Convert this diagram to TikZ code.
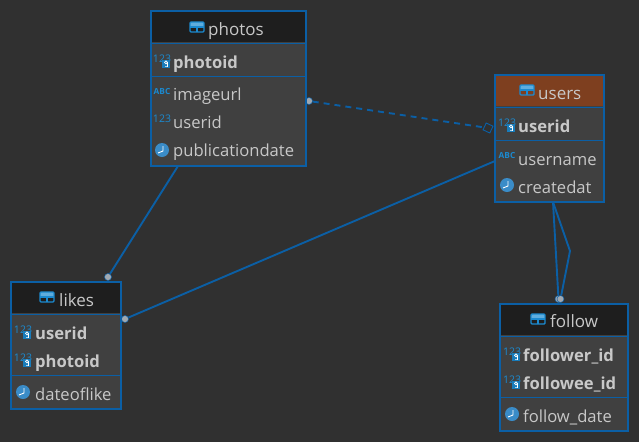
\documentclass[tikz,border=0pt]{standalone}
\usepackage{fontspec}
\setmainfont{Open Sans}
\usetikzlibrary{positioning,shapes.geometric}
\definecolor{BackGrey}{HTML}{303030}
\definecolor{PanelGrey}{HTML}{404040}
\definecolor{HeadBlack}{HTML}{1E1E1E}
\definecolor{HeadBrown}{HTML}{7E3F1F}
\definecolor{LinkBlue}{HTML}{0B5FA5}
\definecolor{IconBlue}{HTML}{1B8AD0}
\definecolor{ClockBlue}{HTML}{3A8CC8}
\definecolor{DotGrey}{HTML}{A0A8B0}
\definecolor{NameGrey}{HTML}{C8C8C8}
\tikzset{
  tablebox/.style={draw=LinkBlue,line width=2pt,fill=PanelGrey,rectangle,anchor=north west,inner sep=0pt,outer sep=0pt},
  headband/.style={fill=HeadBlack,rectangle,anchor=north west,inner sep=0pt,outer sep=0pt,minimum height=31pt},
  sepline/.style={draw=LinkBlue,line width=0.8pt},
  tabletitle/.style={anchor=base west,inner sep=0pt,text=NameGrey,font=\fontsize{17}{19}\selectfont},
  keyname/.style={anchor=base west,inner sep=0pt,text=NameGrey,font=\fontsize{16.6}{19}\selectfont\bfseries},
  colname/.style={anchor=base west,inner sep=0pt,text=NameGrey,font=\fontsize{16.6}{19}\selectfont},
  linkline/.style={draw=LinkBlue,line width=1.9pt},
  linkdot/.style={circle,fill=DotGrey,draw=LinkBlue,line width=0.5pt,inner sep=0pt,minimum size=7pt},
  tableicon/.pic={
    \fill[IconBlue!70!white] (-7,-5) rectangle (7,-1);
    \draw[IconBlue,line width=1.4pt,rounded corners=1pt] (-7,-5) rectangle (7,5);
    \draw[IconBlue,line width=1.2pt] (-7,0) -- (7,0) (0,0) -- (0,5);
  },
  numicon/.pic={
    \node (-num) [inner sep=0pt,text=IconBlue,font=\fontsize{10.5}{11}\selectfont] at (0,-2) {123};
  },
  keyicon/.pic={
    \node (-num) [inner sep=0pt,text=IconBlue,font=\fontsize{10.5}{11}\selectfont] at (0,-3) {123};
    \fill[IconBlue!90!black] (0,-2) rectangle (8,6);
    \draw[white,line width=0.7pt] (4,0.4) circle (1.5) (5.5,0.4) -- (5.5,4.6) -- (3,4.6);
  },
  abcicon/.pic={
    \node (-abc) [inner sep=0pt,text=IconBlue,font=\fontsize{8.3}{9}\selectfont\bfseries] at (0,0) {ABC};
  },
  clockicon/.pic={
    \fill[ClockBlue] (0,0) circle (7);
    \draw[white,line width=0.9pt] (1,-4) -- (1,1) -- (-4,3);
  },
}
\begin{document}
\begin{tikzpicture}[x=1pt,y=-1pt]
  \fill[BackGrey] (0,0) rectangle (639,442);
  \useasboundingbox (0,0) rectangle (639,442);

  % connectors
  \coordinate (photosfoot) at (178,166);
  \coordinate (usersleft) at (495,161);
  \coordinate (usersfoot) at (553,202);
  \coordinate (bendright) at (570,251);
  \node (photosdot) [linkdot] at (309,101) {};
  \node (usersdiamond) [diamond,draw=LinkBlue,line width=0.9pt,inner sep=0pt,minimum size=11pt,rotate=20] at (488,128) {};
  \node (likestop) [linkdot] at (108,277) {};
  \node (likesright) [linkdot] at (125,319) {};
  \node (followa) [linkdot] at (558.5,299) {};
  \node (followb) [linkdot] at (560.5,299) {};

  \draw[linkline] (photosfoot) -- (likestop);
  \draw[linkline] (usersleft) -- (likesright);
  \draw[linkline,dash pattern=on 6pt off 5pt] (photosdot) -- (usersdiamond);
  \draw[linkline] (usersfoot) -- (followa);
  \draw[linkline] (usersfoot) -- (bendright) -- (followb);

  % photos
  \node (photos) [tablebox,minimum width=155pt,minimum height=155pt] at (150.5,11) {};
  \node (photoshead) [headband,minimum width=155pt] at (150.5,11) {};
  \draw[sepline] (150,43) -- (305,43);
  \draw[sepline] (150,76) -- (305,76);
  \draw[LinkBlue,line width=2pt] (photos.north west) rectangle (photos.south east);
  \pic at (197,27) {tableicon};
  \node (photostitle) [tabletitle] at (208,35) {photos};
  \pic (pa) at (162,62) {keyicon};
  \node (photoid) [keyname] at (173,68) {photoid};
  \pic (pb) at (162,92) {abcicon};
  \node (imageurl) [colname] at (173,100) {imageurl};
  \pic (pc) at (162,121) {numicon};
  \node (puserid) [colname] at (173,128) {userid};
  \pic at (162,150) {clockicon};
  \node (publicationdate) [colname] at (173,156) {publicationdate};

  % users
  \node (users) [tablebox,minimum width=109pt,minimum height=127pt] at (495,75) {};
  \node (usershead) [headband,fill=HeadBrown,minimum width=109pt] at (495,75) {};
  \draw[sepline] (495,107) -- (604,107);
  \draw[sepline] (495,140) -- (604,140);
  \draw[LinkBlue,line width=2pt] (users.north west) rectangle (users.south east);
  \pic at (527,90) {tableicon};
  \node (userstitle) [tabletitle] at (538,99) {users};
  \pic (ua) at (507,126) {keyicon};
  \node (userid) [keyname] at (518,132) {userid};
  \pic (ub) at (507,156) {abcicon};
  \node (username) [colname] at (518,165) {username};
  \pic at (507,185) {clockicon};
  \node (createdat) [colname] at (518,193) {createdat};

  % likes
  \node (likes) [tablebox,minimum width=110pt,minimum height=127pt] at (11,282) {};
  \node (likeshead) [headband,minimum width=110pt] at (11,282) {};
  \draw[sepline] (11,314) -- (121,314);
  \draw[sepline] (11,375) -- (121,375);
  \draw[LinkBlue,line width=2pt] (likes.north west) rectangle (likes.south east);
  \pic at (47,297) {tableicon};
  \node (likestitle) [tabletitle] at (59,306) {likes};
  \pic (la) at (23,333) {keyicon};
  \node (luserid) [keyname] at (35,339) {userid};
  \pic (lb) at (23,361) {keyicon};
  \node (lphotoid) [keyname] at (35,367) {photoid};
  \pic at (23,392) {clockicon};
  \node (dateoflike) [colname] at (35,400) {dateoflike};

  % follow
  \node (follow) [tablebox,minimum width=128pt,minimum height=127pt] at (500,304) {};
  \node (followhead) [headband,minimum width=128pt] at (500,304) {};
  \draw[sepline] (500,336) -- (628,336);
  \draw[sepline] (500,397) -- (628,397);
  \draw[LinkBlue,line width=2pt] (follow.north west) rectangle (follow.south east);
  \pic at (538,319) {tableicon};
  \node (followtitle) [tabletitle] at (550,327) {follow};
  \pic (fa) at (512,355) {keyicon};
  \node (followerid) [keyname] at (523,361) {follower\_id};
  \pic (fb) at (512,383) {keyicon};
  \node (followeeid) [keyname] at (523,389) {followee\_id};
  \pic at (512,414) {clockicon};
  \node (followdate) [colname] at (523,422) {follow\_date};
\end{tikzpicture}
\end{document}
